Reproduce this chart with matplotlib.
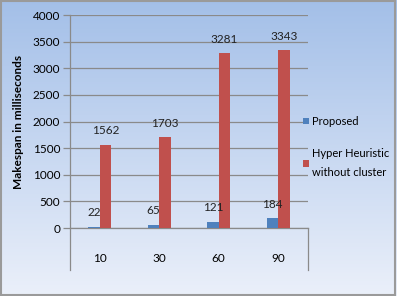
import numpy as np
import matplotlib.pyplot as plt
from matplotlib.patches import Rectangle
from matplotlib.lines import Line2D

categories = ['10', '30', '60', '90']
proposed = [22, 65, 121, 184]
hyper = [1562, 1703, 3281, 3343]
yticks = [0, 500, 1000, 1500, 2000, 2500, 3000, 3500, 4000]

blue = '#4f81bd'
red = '#c0504d'
plt.rcParams['font.family'] = ['Lato', 'DejaVu Sans']

fig = plt.figure(figsize=(3.97, 2.96), dpi=100)

# background gradient
bg = fig.add_axes([0, 0, 1, 1], zorder=-10)
grad = np.linspace(0, 1, 256).reshape(-1, 1)
top = np.array([0.64, 0.75, 0.91])
bot = np.array([0.92, 0.94, 0.98])
img = top + (bot - top) * grad[:, :, None]
img = np.repeat(img, 2, axis=1)
bg.imshow(img, aspect='auto', extent=[0, 1, 0, 1], origin='upper')
bg.add_patch(Rectangle((0.002, 0.003), 0.994, 0.994, fill=False,
                       edgecolor='#9a9a9a', lw=1.5, transform=bg.transAxes))
bg.set_xlim(0, 1)
bg.set_ylim(0, 1)
bg.axis('off')

ax = fig.add_axes([0.176, 0.2297, 0.6, 0.7196])
ax.patch.set_alpha(0)
x = np.arange(len(categories))
w = 0.19
b1 = ax.bar(x - 0.097, proposed, w, color=blue, label='Proposed', zorder=3)
b2 = ax.bar(x + 0.097, hyper, w, color=red, label='Hyper Heuristic\nwithout cluster', zorder=3)

for bars, vals in ((b1, proposed), (b2, hyper)):
    for b, v in zip(bars, vals):
        ax.annotate(str(v), (b.get_x() + b.get_width() / 2, v), xytext=(0, 10),
                    textcoords='offset points', ha='center', va='center',
                    fontsize=8.5, color='#222222')

ax.set_xlim(-0.5, 3.5)
ax.set_ylim(0, 4000)
ax.set_yticks(yticks)
ax.set_yticklabels([str(t) for t in yticks], fontsize=8.5)
ax.yaxis.grid(True, color='#8a8a8a', lw=0.9, zorder=0)
ax.tick_params(axis='y', length=5, color='#8a8a8a', width=0.9, pad=2)
ax.set_xticks(x)
ax.set_xticklabels(categories, fontsize=8.5)
ax.tick_params(axis='x', length=0, pad=18)
for s in ('top', 'right', 'left'):
    ax.spines[s].set_visible(False)
ax.spines['bottom'].set_color('#8a8a8a')
ax.spines['bottom'].set_linewidth(0.9)
ext = -42 / 213
ax.add_line(Line2D([0, 0], [ext, 1], transform=ax.transAxes, color='#8a8a8a',
                   lw=0.9, clip_on=False))
ax.add_line(Line2D([1, 1], [ext, 0], transform=ax.transAxes, color='#8a8a8a',
                   lw=0.9, clip_on=False))
ax.set_ylabel('Makespan in milliseconds', fontsize=8.5, fontweight='bold',
              labelpad=6)

leg = ax.legend(loc='center left', bbox_to_anchor=(0.96, 0.38), frameon=False,
                fontsize=8, handlelength=0.55, handleheight=0.55,
                handletextpad=0.25, labelspacing=1.9, borderaxespad=0)
for t in leg.get_texts():
    t.set_linespacing(1.9)

fig.savefig('out.png', dpi=100)
